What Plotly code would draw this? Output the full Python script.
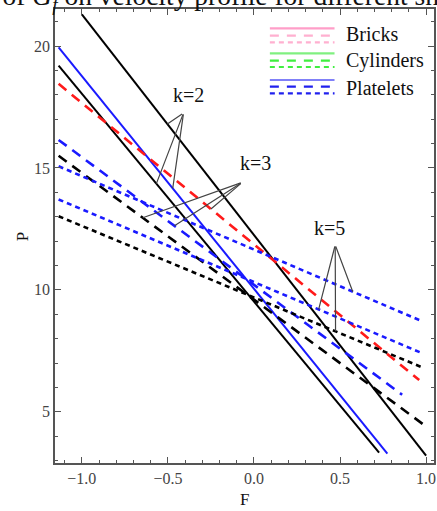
import numpy as np
import plotly.graph_objects as go

# ---- data ----
# k=2 (solid lines)
F_k2_black_top = [-1.0, 1.0]
P_k2_black_top = [21.3, 3.2]
F_k2_blue = [-1.135, 0.775]
P_k2_blue = [19.95, 3.28]
F_k2_black_low = [-1.135, 0.727]
P_k2_black_low = [19.2, 3.33]
# k=3 (long dashed lines)
F_k3_red = [-1.135, 0.96]
P_k3_red = [18.45, 6.3]
F_k3_blue = [-1.135, 0.861]
P_k3_blue = [16.15, 5.70]
F_k3_black = [-1.135, 1.0]
P_k3_black = [15.5, 4.40]
# k=5 (short dashed lines)
F_k5_blue_a = [-1.135, 0.975]
P_k5_blue_a = [15.07, 8.72]
F_k5_blue_b = [-1.135, 0.975]
P_k5_blue_b = [13.71, 7.41]
F_k5_black = [-1.135, 0.975]
P_k5_black = [13.02, 6.83]

x_ticks = [-1.0, -0.5, 0.0, 0.5, 1.0]
y_ticks = [5, 10, 15, 20]
legend_names = ["Bricks", "Cylinders", "Platelets"]

RED = "#ff1a1a"
BLUE = "#1a1aff"
BLACK = "#000000"
LONG = "10px,7px"
SHORT = "5px,4px"

series = [
    ("k2_black_top", F_k2_black_top, P_k2_black_top, BLACK, "solid", 2),
    ("k2_blue", F_k2_blue, P_k2_blue, BLUE, "solid", 2),
    ("k2_black_low", F_k2_black_low, P_k2_black_low, BLACK, "solid", 2),
    ("k3_red", F_k3_red, P_k3_red, RED, LONG, 2.6),
    ("k3_blue", F_k3_blue, P_k3_blue, BLUE, LONG, 2.6),
    ("k3_black", F_k3_black, P_k3_black, BLACK, LONG, 2.6),
    ("k5_blue_a", F_k5_blue_a, P_k5_blue_a, BLUE, SHORT, 2.6),
    ("k5_blue_b", F_k5_blue_b, P_k5_blue_b, BLUE, SHORT, 2.6),
    ("k5_black", F_k5_black, P_k5_black, BLACK, SHORT, 2.6),
]
lookup = {s[0]: s for s in series}

fig = go.Figure()
for name, F, P, col, dash, w in series:
    fig.add_trace(go.Scatter(x=F, y=P, mode="lines", name=name, showlegend=False,
                             line=dict(color=col, dash=dash, width=w)))

SERIF = "Liberation Serif, Times New Roman, serif"

# ---- pointer annotations ----
pointers = [
    ("k=2", (-0.382, 17.99), (-0.409, 17.26),
     [("k2_black_top", -0.503), ("k2_black_low", -0.567), ("k2_blue", -0.472)]),
    ("k=3", (0.006, 15.21), (-0.068, 14.41),
     [("k3_black", -0.646), ("k3_blue", -0.462), ("k3_red", -0.25)]),
    ("k=5", (0.438, 12.52), (0.472, 11.84),
     [("k5_blue_a", 0.574), ("k5_blue_b", 0.376), ("k5_black", 0.474)]),
]
annotations = []
for label, (tx, ty), (axp, ayp), targets in pointers:
    annotations.append(dict(x=tx, y=ty, xref="x", yref="y", text=label, showarrow=False,
                            xanchor="center", yanchor="middle",
                            font=dict(family=SERIF, size=20, color="#111")))
    for sname, fx in targets:
        s = lookup[sname]
        py = float(np.interp(fx, s[1], s[2]))
        annotations.append(dict(x=fx, y=py, xref="x", yref="y", ax=axp, ay=ayp,
                                axref="x", ayref="y", text="", showarrow=True,
                                arrowhead=0, arrowwidth=1.2, arrowcolor="#444",
                                standoff=0, startstandoff=0))

# ---- layout geometry ----
W, H = 437, 511
ML, MR, MT, MB = 55, 1, 9, 48
PW, PH = W - ML - MR, H - MT - MB

def px(xp):
    return (xp - ML) / PW

def py_(yp):
    return 1 - (yp - MT) / PH

# custom legend (three line styles per entry)
leg_cols = [
    ("#ff9ec8", "#ffb0d0", "#ffb0d0"),
    ("#80f080", "#40ee40", "#40ee40"),
    ("#8080f8", "#2020ee", "#2020ee"),
]
leg_rows = [(28.3, 35.7, 42.3), (53.3, 60.7, 67.0), (80.0, 86.7, 93.3)]
leg_text_y = [33.5, 60.5, 88.0]
shapes = []
for i, nm in enumerate(legend_names):
    for j, dash in enumerate(["solid", "9px,8px", "5px,4px"]):
        shapes.append(dict(type="line", xref="paper", yref="paper",
                           x0=px(271), x1=px(336), y0=py_(leg_rows[i][j]), y1=py_(leg_rows[i][j]),
                           line=dict(color=leg_cols[i][j], width=2.2, dash=dash)))
    annotations.append(dict(x=px(346), y=py_(leg_text_y[i]), xref="paper", yref="paper",
                            xanchor="left", yanchor="middle", text=nm, showarrow=False,
                            font=dict(family=SERIF, size=20, color="#111")))

# axis titles
annotations.append(dict(x=px(22), y=py_(237), xref="paper", yref="paper", text="P",
                        xanchor="center", yanchor="middle",
                        textangle=-90, showarrow=False, font=dict(family=SERIF, size=17, color="#111")))
annotations.append(dict(x=px(245), y=py_(499), xref="paper", yref="paper", text="F",
                        xanchor="center", yanchor="middle",
                        showarrow=False, font=dict(family=SERIF, size=17, color="#111")))
# clipped title at the very top
annotations.append(dict(x=px(-74), y=py_(17.5), xref="paper", yref="paper", xanchor="left",
                        yanchor="bottom",
                        text="Effect of <i>G</i><sub><i>f</i></sub> on velocity profile for different shapes",
                        showarrow=False, font=dict(family=SERIF, size=27.5, color="#111")))

axis_common = dict(showline=True, linecolor="#555", linewidth=1.5, mirror="allticks",
                   ticks="inside", ticklen=6, tickwidth=1, tickcolor="#555",
                   showgrid=False, zeroline=False,
                   tickfont=dict(family=SERIF, size=16, color="#444"))

fig.update_layout(
    width=W, height=H,
    margin=dict(l=ML, r=MR, t=MT, b=MB),
    paper_bgcolor="white", plot_bgcolor="white",
    showlegend=False,
    xaxis=dict(range=[-1.156, 1.046], tickvals=x_ticks, ticktext=["\u22121.0", "\u22120.5", "0.0", "0.5", "1.0"],
               minor=dict(dtick=0.1, tick0=0, ticks="inside", ticklen=3.5, tickcolor="#555"),
               **axis_common),
    yaxis=dict(range=[2.90, 21.52], tickvals=y_ticks,
               minor=dict(dtick=1, tick0=0, ticks="inside", ticklen=3.5, tickcolor="#555"),
               **axis_common),
    annotations=annotations,
    shapes=shapes,
)

fig.write_html("out.html")
